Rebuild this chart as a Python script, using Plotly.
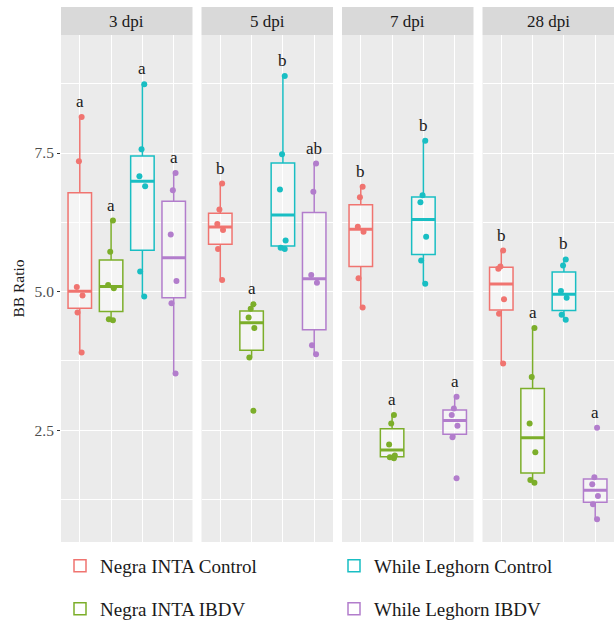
import numpy as np
import plotly.graph_objects as go
from plotly.subplots import make_subplots

panels = ["3 dpi", "5 dpi", "7 dpi", "28 dpi"]
groups = ["Negra INTA Control", "Negra INTA IBDV", "While Leghorn Control", "While Leghorn IBDV"]
colors = ["#F07470", "#7CAE2A", "#19BEC3", "#B27DCC"]

# BB ratio values (6 birds per group)
nic_3 = [8.15, 7.35, 5.08, 4.93, 4.62, 3.90]
nii_3 = [6.28, 5.72, 5.12, 5.06, 4.50, 4.48]
wlc_3 = [8.74, 7.57, 7.08, 6.90, 5.36, 4.91]
wli_3 = [7.14, 6.83, 6.03, 5.19, 4.79, 3.52]

nic_5 = [6.95, 6.48, 6.22, 6.11, 5.77, 5.21]
nii_5 = [4.77, 4.69, 4.53, 4.34, 3.81, 2.85]
wlc_5 = [8.89, 7.48, 6.84, 5.92, 5.79, 5.77]
wli_5 = [7.31, 6.80, 5.30, 5.16, 4.03, 3.87]

nic_7 = [6.89, 6.70, 6.17, 6.08, 5.24, 4.71]
nii_7 = [2.77, 2.62, 2.24, 2.04, 2.01, 1.99]
wlc_7 = [7.72, 6.74, 6.61, 5.99, 5.56, 5.14]
wli_7 = [3.10, 2.89, 2.77, 2.58, 2.37, 1.63]

nic_28 = [5.74, 5.45, 5.41, 4.86, 4.60, 3.70]
nii_28 = [4.34, 3.46, 2.62, 2.10, 1.60, 1.55]
wlc_28 = [5.58, 5.47, 5.01, 4.89, 4.58, 4.49]
wli_28 = [2.54, 1.65, 1.52, 1.31, 1.16, 0.89]

letters_3 = ["a", "a", "a", "a"]
letters_5 = ["b", "a", "b", "ab"]
letters_7 = ["b", "a", "b", "a"]
letters_28 = ["b", "a", "b", "a"]

y_ticks = [2.5, 5.0, 7.5]
y_tick_text = ["2.5", "5.0", "7.5"]

data = {
    "3 dpi": [nic_3, nii_3, wlc_3, wli_3],
    "5 dpi": [nic_5, nii_5, wlc_5, wli_5],
    "7 dpi": [nic_7, nii_7, wlc_7, wli_7],
    "28 dpi": [nic_28, nii_28, wlc_28, wli_28],
}
letters = {"3 dpi": letters_3, "5 dpi": letters_5, "7 dpi": letters_7, "28 dpi": letters_28}

FONT = "Liberation Serif"
W, H = 614, 624
ML, MR, MT, MB = 61, 0, 35, 82
plot_w = W - ML - MR
plot_h = H - MT - MB
gap = 9

fig = make_subplots(rows=1, cols=4, shared_yaxes=True, horizontal_spacing=gap / plot_w)

BOXW = 0.75
legend_of = {0: "legend", 2: "legend", 1: "legend2", 3: "legend2"}
rank_of = {0: 1, 2: 2, 1: 3, 3: 4}

for pi, panel in enumerate(panels):
    col = pi + 1
    xr = f"x{'' if col == 1 else col}"
    for gi, vals in enumerate(data[panel]):
        v = np.array(vals, dtype=float)
        pos = gi + 1
        q1, med, q3 = np.percentile(v, [25, 50, 75])
        iqr = q3 - q1
        lf = v[v >= q1 - 1.5 * iqr].min()
        uf = v[v <= q3 + 1.5 * iqr].max()
        c = colors[gi]
        # box (ggplot-style quartiles)
        fig.add_trace(go.Box(
            x=[pos], q1=[q1], median=[med], q3=[q3], lowerfence=[lf], upperfence=[uf],
            width=BOXW, whiskerwidth=0, boxpoints=False,
            line=dict(color=c, width=1.5), fillcolor="rgba(255,255,255,0.45)",
            name=groups[gi], legendgroup=groups[gi], showlegend=(pi == 0),
            legend=legend_of[gi], legendrank=rank_of[gi], hoverinfo="skip",
        ), row=1, col=col)
        # thicker median bar
        fig.add_trace(go.Box(
            x=[pos], q1=[med], median=[med], q3=[med], lowerfence=[med], upperfence=[med],
            width=BOXW, whiskerwidth=0, boxpoints=False,
            line=dict(color=c, width=3), fillcolor="rgba(0,0,0,0)",
            name=groups[gi], legendgroup=groups[gi], showlegend=False, hoverinfo="skip",
        ), row=1, col=col)
        # jittered observations
        fig.add_trace(go.Box(
            x=[pos] * len(v), y=v, width=BOXW, boxpoints="all", jitter=0.3, pointpos=0,
            line=dict(color="rgba(0,0,0,0)", width=0), fillcolor="rgba(0,0,0,0)",
            marker=dict(color=c, size=6, line=dict(width=0)),
            name=groups[gi], legendgroup=groups[gi], showlegend=False,
        ), row=1, col=col)
        # significance letter
        fig.add_annotation(
            x=pos, y=v.max(), xref=xr, yref="y",
            text=letters[panel][gi], showarrow=False, yanchor="bottom", yshift=4,
            font=dict(family=FONT, size=17, color="#1A1A1A"),
        )
    # facet strip
    fig.add_shape(type="rect", xref=f"{xr} domain", yref="paper",
                  x0=0, x1=1, y0=1, y1=1 + 28 / plot_h, fillcolor="#D9D9D9",
                  line=dict(width=0), layer="below")
    fig.add_annotation(x=0.5, y=1 + 14 / plot_h, xref=f"{xr} domain",
                       yref="paper", text=panel, showarrow=False, yanchor="middle",
                       font=dict(family=FONT, size=17, color="#1A1A1A"))
    fig.update_xaxes(range=[0.4, 4.6], tickvals=[1, 2, 3, 4], showticklabels=False,
                     showgrid=True, gridcolor="white", gridwidth=1.1, zeroline=False,
                     ticks="", showline=False, row=1, col=col)

fig.update_yaxes(range=[0.48, 9.63], tickvals=y_ticks, ticktext=y_tick_text,
                 showgrid=True, gridcolor="white", gridwidth=1.1, zeroline=False,
                 minor=dict(tickvals=[1.25, 3.75, 6.25, 8.75], showgrid=True,
                            gridcolor="white", gridwidth=0.5, ticks=""),
                 showline=False)
fig.update_yaxes(ticks="outside", ticklen=3, tickcolor="#333333", tickwidth=1,
                 tickfont=dict(family=FONT, size=15.5, color="#4D4D4D"),
                 title=dict(text="BB Ratio", font=dict(family=FONT, size=15.5, color="#1A1A1A"),
                            standoff=6),
                 row=1, col=1)

legend_common = dict(orientation="h", entrywidth=229, entrywidthmode="pixels",
                     font=dict(family=FONT, size=19, color="#1A1A1A"),
                     bgcolor="rgba(0,0,0,0)", xanchor="left", yanchor="middle",
                     itemclick=False, itemdoubleclick=False)
fig.update_layout(
    width=W, height=H,
    margin=dict(l=ML, r=MR, t=MT, b=MB, autoexpand=False),
    paper_bgcolor="white", plot_bgcolor="#EBEBEB",
    boxmode="overlay",
    legend=dict(x=(60 - ML) / plot_w, y=-(566 - 542) / plot_h, **legend_common),
    legend2=dict(x=(60 - ML) / plot_w, y=-(609 - 542) / plot_h, **legend_common),
    font=dict(family=FONT),
)

fig.write_html("out.html", config={"displayModeBar": False},
               post_script="document.body.style.margin='0';document.body.style.overflow='hidden';")
